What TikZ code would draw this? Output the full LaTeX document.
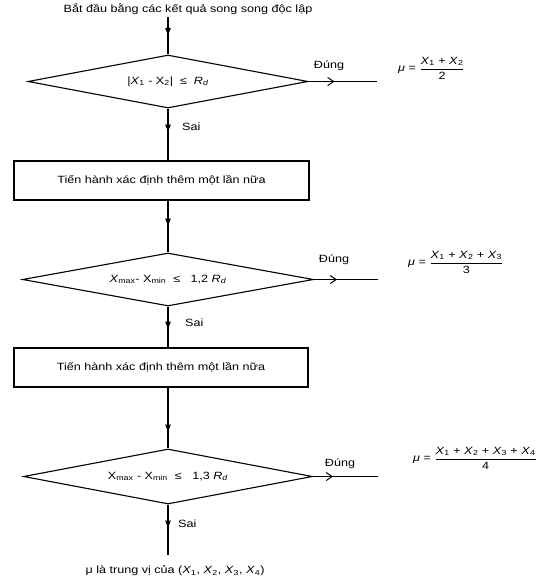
\documentclass[tikz,border=0pt]{standalone}
\usepackage{amsmath}
\usepackage{fontspec}
\setmainfont[FakeStretch=1.2]{Liberation Sans}
\usetikzlibrary{shapes.geometric,arrows.meta,decorations.markings}
\newcommand{\fsz}{\fontsize{10.5}{12.6}\selectfont}
\newcommand{\myX}[1]{\textit{X}\textsubscript{#1}}
\newcommand{\myRd}{\textit{R}\textsubscript{\textit{d}}}
\tikzset{
  txt/.style={font=\fsz, inner sep=0pt},
  dec/.style={diamond, draw, line width=1.1pt, inner sep=0pt, aspect=5.3, font=\fsz},
  procbox/.style={rectangle, draw, line width=1.1pt, inner sep=0pt, font=\fsz},
  flow/.style={line width=1.1pt},
  midtri/.style={postaction={decorate}, decoration={markings,
      mark=at position #1 with {\arrow{Triangle[length=7pt,width=5.5pt]}}}},
  midbarb/.style={postaction={decorate}, decoration={markings,
      mark=at position #1 with {\arrow{Straight Barb[length=6pt,width=8pt,line width=1pt]}}}}
}
\begin{document}
\begin{tikzpicture}[x=1pt,y=-1pt]
\useasboundingbox (0,0) rectangle (548,578);
\node[txt] (title) at (188,9) {Bắt đầu bằng các kết quả song song độc lập};
\coordinate (s) at (168,17);
\node[dec, minimum width=280pt, minimum height=53pt] (d1) at (168,81.5)
  {|\myX{1} - X\textsubscript{2}| ~≤~ \myRd};
\node[procbox, minimum width=295pt, minimum height=39pt] (b1) at (161.5,180.5)
  {Tiến hành xác định thêm một lần nữa};
\node[dec, minimum width=291pt, minimum height=53pt] (d2) at (168,279.5)
  {\myX{max}- X\textsubscript{min} ~≤~~ 1,2 \myRd};
\node[procbox, minimum width=294pt, minimum height=39pt] (b2) at (161,367.5)
  {Tiến hành xác định thêm một lần nữa};
\node[dec, minimum width=289pt, minimum height=55pt] (d3) at (168,476.5)
  {X\textsubscript{max} - X\textsubscript{min} ~≤~~ 1,3 \myRd};
\coordinate (e) at (168,555);
\node[txt] (res) at (175,571) {μ là trung vị của (\myX{1}, \myX{2}, \myX{3}, \myX{4})};

\coordinate (r1) at (377,81.5);
\coordinate (r2) at (378,279.5);
\coordinate (r3) at (378,476.5);

\node[txt] (y1) at (329,66) {Đúng};
\node[txt] (y2) at (334,260) {Đúng};
\node[txt] (y3) at (340,464) {Đúng};
\node[txt, anchor=west] (n1) at (182,127) {Sai};
\node[txt, anchor=west] (n2) at (185,323) {Sai};
\node[txt, anchor=west] (n3) at (178,524) {Sai};

\node[txt, anchor=west] (f1) at (398,68)
  {\textit{μ} = $\dfrac{\text{\myX{1} + \myX{2}}}{\text{2}}$};
\node[txt, anchor=west] (f2) at (408,262)
  {\textit{μ} = $\dfrac{\text{\myX{1} + \myX{2} + \myX{3}}}{\text{3}}$};
\node[txt, anchor=west] (f3) at (413,458)
  {\textit{μ} = $\dfrac{\text{\myX{1} + \myX{2} + \myX{3} + \myX{4}}}{\text{4}}$};

\draw[flow, midtri=18pt] (s) -- (d1.north);
\draw[flow, midtri=23pt] (d1.south) -- (d1.south |- b1.north);
\draw[flow, midtri=25pt] (d2.north |- b1.south) -- (d2.north);
\draw[flow, midtri=22pt] (d2.south) -- (d2.south |- b2.north);
\draw[flow, midtri=44pt] (d3.north |- b2.south) -- (d3.north);
\draw[flow, midtri=23pt] (d3.south) -- (e);
\draw[flow, midbarb=26pt] (d1.east) -- (r1);
\draw[flow, midbarb=23pt] (d2.east) -- (r2);
\draw[flow, midbarb=20pt] (d3.east) -- (r3);
\end{tikzpicture}
\end{document}
